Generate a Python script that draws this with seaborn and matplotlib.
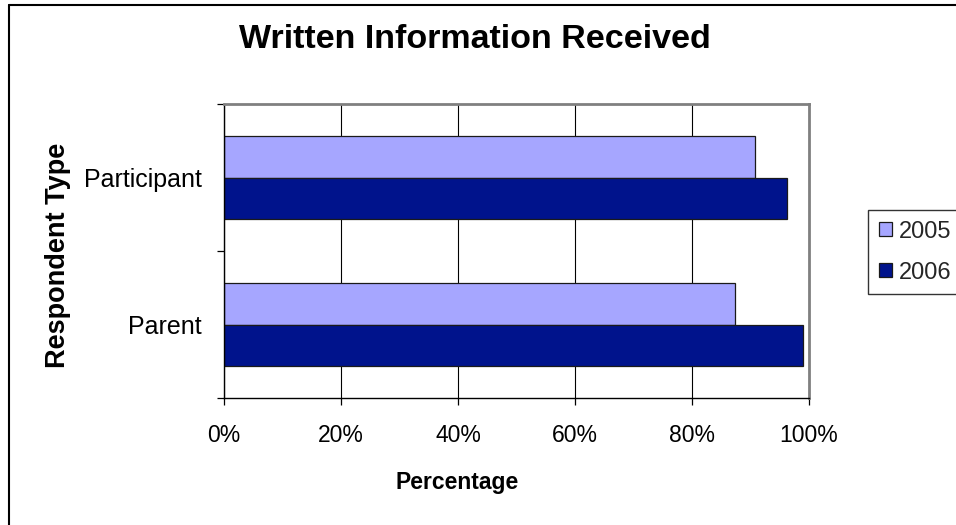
import matplotlib
matplotlib.use("Agg")
import matplotlib.pyplot as plt
from matplotlib.lines import Line2D
from matplotlib.ticker import PercentFormatter, FixedLocator
import seaborn as sns
import pandas as pd

categories = ["Participant", "Parent"]
years = ["2005", "2006"]
values_2005 = [90.7, 87.3]
values_2006 = [96.2, 98.9]
x_ticks = [0, 20, 40, 60, 80, 100]

df = pd.DataFrame({
    "Respondent Type": categories * 2,
    "Year": [years[0]] * 2 + [years[1]] * 2,
    "Percentage": values_2005 + values_2006,
})

sns.set_theme(style="white")
plt.rcParams["font.family"] = ["Liberation Sans", "DejaVu Sans"]

W, H = 956, 525
fig = plt.figure(figsize=(W / 100, H / 100), dpi=100)
fig.patch.set_facecolor("white")

ax = fig.add_axes([224 / W, 1 - 398 / H, (809 - 224) / W, (398 - 104) / H])

sns.barplot(data=df, x="Percentage", y="Respondent Type", hue="Year",
            order=categories, hue_order=years, orient="h",
            palette=["#A6A6FF", "#00138C"], saturation=1,
            width=0.571, edgecolor="#1a1a1a", linewidth=0.9, ax=ax)

ax.set_xlim(0, 100)
ax.set_ylim(1.5, -0.5)
ax.xaxis.set_major_locator(FixedLocator(x_ticks))
ax.xaxis.set_major_formatter(PercentFormatter(100, decimals=0))
ax.set_axisbelow(True)
ax.grid(axis="x", color="black", linewidth=0.8)
ax.grid(axis="y", visible=False)

# Category boundary ticks on the y axis
ax.yaxis.set_minor_locator(FixedLocator([-0.5, 0.5, 1.5]))
ax.tick_params(axis="y", which="major", length=0, pad=16, labelsize=18, colors="black")
ax.tick_params(axis="y", which="minor", length=5, width=0.9, color="black", left=True)
ax.tick_params(axis="x", which="major", length=5, width=0.9, color="black",
               bottom=True, pad=14, labelsize=16.5, labelcolor="black")

for side in ["left", "bottom"]:
    ax.spines[side].set_color("black")
    ax.spines[side].set_linewidth(1.0)
for side in ["top", "right"]:
    ax.spines[side].set_color("#808080")
    ax.spines[side].set_linewidth(2.0)
    ax.spines[side].set_visible(True)

ax.set_xlabel("")
ax.set_ylabel("")

handles, labels = ax.get_legend_handles_labels()
if ax.get_legend() is not None:
    ax.get_legend().remove()
leg = fig.legend(handles, labels, loc="upper left",
                 bbox_to_anchor=(868 / W, 1 - 210 / H),
                 frameon=True, fancybox=False, fontsize=17,
                 handlelength=0.55, handleheight=0.55, handletextpad=0.3,
                 labelspacing=0.8, borderpad=0.45, borderaxespad=0)
leg.get_frame().set_edgecolor("black")
leg.get_frame().set_linewidth(1.0)

fig.text(475 / W, 1 - 48 / H, "Written Information Received", ha="center",
         va="baseline", fontsize=24.5, fontweight="bold", color="black")
fig.text(457 / W, 1 - 489 / H, "Percentage", ha="center", va="baseline",
         fontsize=16.5, fontweight="bold", color="black")
fig.text(58 / W, 1 - 255 / H, "Respondent Type", ha="center", va="center",
         rotation=90, fontsize=19.5, fontweight="bold", color="black")

# Chart-area border (top and left edges visible in the crop)
fig.add_artist(Line2D([9 / W, 1], [1 - 5 / H, 1 - 5 / H], color="black", linewidth=1.5))
fig.add_artist(Line2D([9 / W, 9 / W], [0, 1 - 5 / H], color="black", linewidth=1.5))

fig.savefig("out.png", dpi=100)
